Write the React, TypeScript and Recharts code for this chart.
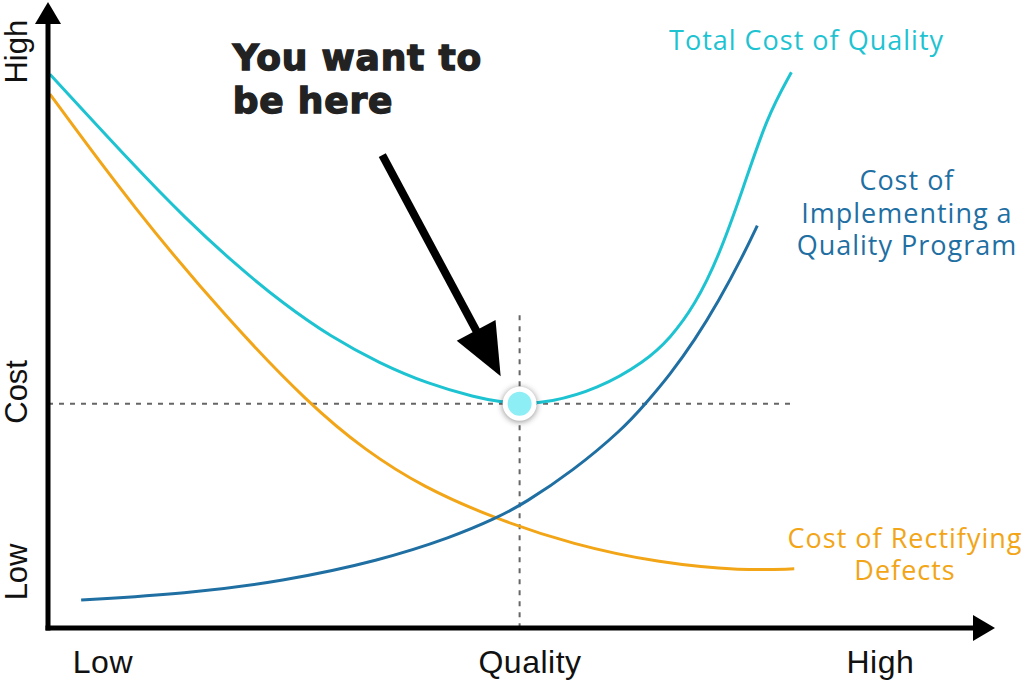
import React from "react";
import { LineChart, Line, XAxis, YAxis, ReferenceLine, ReferenceDot } from "recharts";

// quality (0-100) and cost (0-100)
const totalQuality = [0.2, 9.4, 14.5, 19.6, 24.8, 29.9, 35.0, 40.1, 45.2, 47.8, 50.1, 52.9, 58.0, 63.1, 65.7, 68.3, 70.8, 73.4, 75.9, 78.5];
const totalCost = [88.9, 73.7, 65.8, 58.6, 52.1, 46.7, 42.5, 39.2, 37.0, 36.3, 36.0, 36.2, 38.3, 42.8, 46.5, 51.8, 59.5, 70.5, 82.0, 89.2];

const defectQuality = [0.2, 9.1, 19.1, 27.6, 33.5, 39.6, 47.3, 55.4, 64.6, 73.4, 78.8];
const defectCost = [85.7, 67.3, 49.3, 35.9, 28.5, 22.6, 17.5, 13.4, 10.4, 9.2, 9.5];

const programQuality = [3.5, 14.5, 24.8, 35.0, 42.7, 47.3, 50.3, 55.5, 60.6, 63.1, 65.7, 68.3, 70.8, 73.4, 74.9];
const programCost = [4.5, 5.5, 7.5, 10.8, 14.6, 17.6, 20.0, 25.3, 31.8, 36.0, 40.7, 46.2, 52.4, 59.8, 64.6];

const qualityTicks = [5.8, 50.9, 87.9];
const qualityLabels = ["Low", "Quality", "High"];
const costTicks = [9.0, 37.9, 92.5];
const costLabels = ["Low", "Cost", "High"];

const optimum = { q: 49.8, cost: 36.0 };

const toRows = (qs: number[], cs: number[]) => qs.map((q, i) => ({ q, cost: cs[i] }));
const totalData = toRows(totalQuality, totalCost);
const defectData = toRows(defectQuality, defectCost);
const programData = toRows(programQuality, programCost);

const CYAN = "#1ec3d2";
const BLUE = "#1f6fa3";
const ORANGE = "#f2a516";

function arrowShape(head: number, width: number, shaft: number, color: string, cap = "butt") {
  return (p: any) => {
    const { x1, y1, x2, y2 } = p;
    const dx = x2 - x1;
    const dy = y2 - y1;
    const len = Math.hypot(dx, dy) || 1;
    const ux = dx / len;
    const uy = dy / len;
    const px = -uy;
    const py = ux;
    const bx = x2 - ux * head;
    const by = y2 - uy * head;
    return (
      <g>
        <line x1={x1} y1={y1} x2={bx + ux * 2} y2={by + uy * 2} stroke={color} strokeWidth={shaft} strokeLinecap={cap} />
        <polygon
          points={`${x2},${y2} ${bx + (px * width) / 2},${by + (py * width) / 2} ${bx - (px * width) / 2},${by - (py * width) / 2}`}
          fill={color}
        />
      </g>
    );
  };
}

function noteShape(lines: string[], color: string, size: number, gap: number, opts: any = {}) {
  return (p: any) => (
    <g>
      {lines.map((l, i) => (
        <text
          key={l}
          x={p.cx}
          y={p.cy + i * gap}
          fill={color}
          stroke={opts.stroke ? color : "none"}
          strokeWidth={opts.stroke || 0}
          fontSize={size}
          fontFamily={opts.family || "'Open Sans', sans-serif"}
          fontWeight={opts.weight || 400}
          letterSpacing={opts.spacing ?? 1}
          textAnchor={opts.anchor || "middle"}
        >
          {l}
        </text>
      ))}
    </g>
  );
}

const QualityTick = (p: any) => (
  <text x={p.x} y={p.y} dy="0.71em" textAnchor="middle" fontSize={32} letterSpacing={0.5} fill="#111" fontFamily="'Liberation Sans', Arial, sans-serif">
    {qualityLabels[qualityTicks.indexOf(p.payload.value)]}
  </text>
);

const CostTick = (p: any) => (
  <text
    x={p.x}
    y={p.y}
    transform={`rotate(-90 ${p.x} ${p.y})`}
    textAnchor="middle"
    fontSize={31}
    fill="#111"
    fontFamily="'Liberation Sans', Arial, sans-serif"
  >
    {costLabels[costTicks.indexOf(p.payload.value)]}
  </text>
);

const OptimumDot = (p: any) => (
  <circle cx={p.cx} cy={p.cy} r={14.5} fill="#8eeef5" stroke="#fff" strokeWidth={5} style={{ filter: "drop-shadow(0 1px 3px rgba(0,0,0,0.45))" }} />
);

export default function App() {
  return (
    <div style={{ width: 1024, height: 680, background: "#fff" }}>
      <style>{"body{margin:0}"}</style>
      <LineChart width={1024} height={680} margin={{ top: 5, right: 29, left: 0, bottom: 0 }}>
        <XAxis
          type="number"
          dataKey="q"
          domain={[0, 100]}
          ticks={qualityTicks}
          tick={<QualityTick />}
          axisLine={false}
          tickLine={false}
          tickSize={0}
          tickMargin={22}
          height={52}
          allowDataOverflow
        />
        <YAxis
          type="number"
          dataKey="cost"
          domain={[0, 100]}
          ticks={costTicks}
          tick={<CostTick />}
          axisLine={false}
          tickLine={false}
          tickSize={0}
          tickMargin={21}
          width={48}
          allowDataOverflow
        />
        <ReferenceLine
          segment={[{ x: 0, y: optimum.cost }, { x: 78.4, y: optimum.cost }]}
          stroke="#666"
          strokeWidth={2}
          strokeDasharray="5 6"
          ifOverflow="visible"
        />
        <ReferenceLine
          segment={[{ x: optimum.q, y: 50.2 }, { x: optimum.q, y: 0 }]}
          stroke="#666"
          strokeWidth={2}
          strokeDasharray="5 6"
          ifOverflow="visible"
        />
        <Line data={defectData} dataKey="cost" type="basis" stroke={ORANGE} strokeWidth={3} dot={false} isAnimationActive={false} />
        <Line data={programData} dataKey="cost" type="basis" stroke={BLUE} strokeWidth={3} dot={false} isAnimationActive={false} />
        <Line data={totalData} dataKey="cost" type="basis" stroke={CYAN} strokeWidth={3} dot={false} isAnimationActive={false} />
        <ReferenceDot x={optimum.q} y={optimum.cost} shape={OptimumDot} ifOverflow="visible" />
        <ReferenceLine segment={[{ x: 35.3, y: 75.9 }, { x: 47.8, y: 40.4 }]} shape={arrowShape(52, 44, 8, "#000")} ifOverflow="visible" />
        <ReferenceLine segment={[{ x: 0, y: 0 }, { x: 100, y: 0 }]} shape={arrowShape(22, 26, 5, "#000", "square")} ifOverflow="visible" />
        <ReferenceLine segment={[{ x: 0, y: 0 }, { x: 0, y: 100.5 }]} shape={arrowShape(22, 26, 5, "#000", "square")} ifOverflow="visible" />
        <ReferenceDot
          x={19.5}
          y={89.6}
          ifOverflow="visible"
          shape={noteShape(["You want to", "be here"], "#222", 36, 43, {
            anchor: "start",
            weight: 700,
            family: "'DejaVu Sans', sans-serif",
            spacing: 0.8,
            stroke: 1.4,
          })}
        />
        <ReferenceDot x={80.1} y={92.8} ifOverflow="visible" shape={noteShape(["Total Cost of Quality"], CYAN, 27, 0)} />
        <ReferenceDot
          x={90.7}
          y={70.3}
          ifOverflow="visible"
          shape={noteShape(["Cost of", "Implementing a", "Quality Program"], BLUE, 27, 32.5)}
        />
        <ReferenceDot x={90.5} y={12.8} ifOverflow="visible" shape={noteShape(["Cost of Rectifying", "Defects"], ORANGE, 27, 32)} />
      </LineChart>
    </div>
  );
}
